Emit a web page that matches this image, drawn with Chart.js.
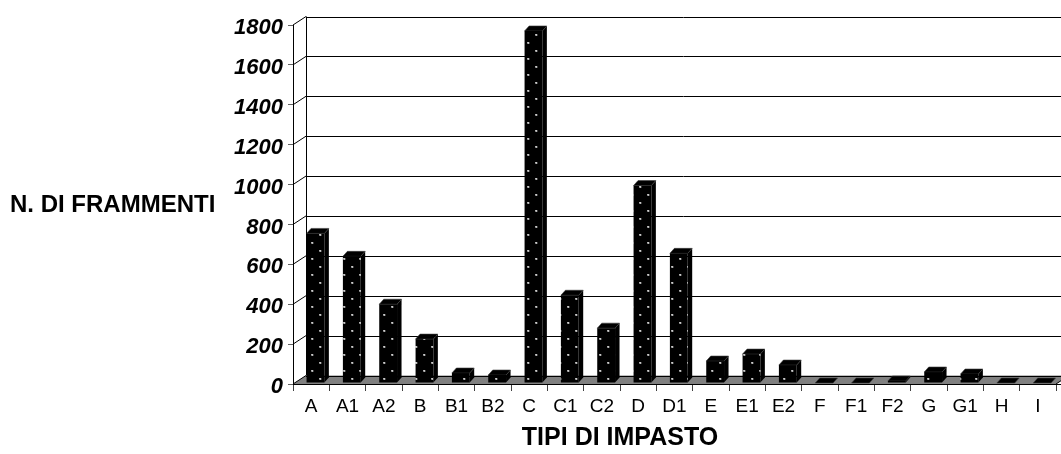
<!DOCTYPE html>
<html>
<head>
<meta charset="utf-8">
<script src="https://cdn.jsdelivr.net/npm/chart.js@4.4.1/dist/chart.umd.min.js"></script>
<style>
  html, body { margin: 0; padding: 0; background: #fff; overflow: hidden; }
  canvas { display: block; }
</style>
</head>
<body>
<canvas id="chart" width="1061" height="454"></canvas>
<script>
// Fragment counts per paste type
const categories = ['A','A1','A2','B','B1','B2','C','C1','C2','D','D1','E','E1','E2','F','F1','F2','G','G1','H','I'];
const fragments  = [750, 635, 395, 220, 50, 40, 1765, 440, 275, 990, 650, 110, 145, 90, 0, 0, 10, 55, 45, 0, 0];
const yTicks     = [0, 200, 400, 600, 800, 1000, 1200, 1400, 1600, 1800];
const yTitle = 'N. DI FRAMMENTI';
const xTitle = 'TIPI DI IMPASTO';

// Oblique projection used for the box walls and the columns
const WALL = { dx: 13, dy: -8.5 };
const BAR_SHIFT = { dx: 4.3, dy: -1 };
const BAR_DEPTH = { dx: 4.5, dy: -5 };
const FONT = "'Liberation Sans', Arial, sans-serif";

function dottedPattern(ctx) {
  const t = document.createElement('canvas');
  t.width = 16; t.height = 16;
  const g = t.getContext('2d');
  g.fillStyle = '#000'; g.fillRect(0, 0, 16, 16);
  g.fillStyle = '#b4b4b4';
  g.fillRect(3, 3, 2, 2); g.fillRect(11, 11, 2, 2);
  g.fillStyle = '#ffffff';
  g.fillRect(3, 3, 1, 1); g.fillRect(11, 11, 1, 1);
  return ctx.createPattern(t, 'repeat');
}

const boxPlugin = {
  id: 'box3d',
  beforeDatasetsDraw(chart) {
    const { ctx, chartArea: a, scales: { y } } = chart;
    const W = chart.width;
    ctx.save();
    // floor
    ctx.beginPath();
    ctx.moveTo(a.left, a.bottom);
    ctx.lineTo(a.right, a.bottom);
    ctx.lineTo(a.right + WALL.dx, a.bottom + WALL.dy);
    ctx.lineTo(a.left + WALL.dx, a.bottom + WALL.dy);
    ctx.closePath();
    ctx.fillStyle = '#808080';
    ctx.fill();

    ctx.strokeStyle = '#000';
    ctx.lineWidth = 1;
    // back wall grid + connectors to the front axis
    yTicks.forEach(v => {
      const fy = y.getPixelForValue(v);
      const by = Math.round(fy + WALL.dy) + 0.5;
      ctx.beginPath();
      ctx.moveTo(a.left, fy);
      ctx.lineTo(a.left + WALL.dx, fy + WALL.dy);
      ctx.stroke();
      ctx.beginPath();
      ctx.moveTo(a.left + WALL.dx, by);
      ctx.lineTo(W, by);
      ctx.stroke();
    });
    // left edge of back wall
    const bx = Math.round(a.left + WALL.dx) + 0.5;
    ctx.beginPath();
    ctx.moveTo(bx, y.getPixelForValue(yTicks[yTicks.length - 1]) + WALL.dy);
    ctx.lineTo(bx, y.getPixelForValue(0) + WALL.dy);
    ctx.stroke();
    // front edge of floor
    const fb = Math.round(a.bottom) + 0.5;
    ctx.beginPath();
    ctx.moveTo(a.left, fb);
    ctx.lineTo(W, fb);
    ctx.stroke();
    ctx.beginPath();
    ctx.moveTo(a.right, a.bottom);
    ctx.lineTo(a.right + WALL.dx, a.bottom + WALL.dy);
    ctx.stroke();

    // tops and sides of the columns
    const meta = chart.getDatasetMeta(0);
    meta.data.forEach(el => {
      const p = el.getProps(['x', 'y', 'base', 'width'], true);
      const l = p.x - p.width / 2 + BAR_SHIFT.dx;
      const r = p.x + p.width / 2 + BAR_SHIFT.dx;
      const t = Math.min(p.y, p.base) + BAR_SHIFT.dy;
      const b = Math.max(p.y, p.base) + BAR_SHIFT.dy;
      ctx.fillStyle = '#000';
      ctx.strokeStyle = '#3a3a3a';
      ctx.lineWidth = 0.6;
      // side
      ctx.beginPath();
      ctx.moveTo(r, t);
      ctx.lineTo(r + BAR_DEPTH.dx, t + BAR_DEPTH.dy);
      ctx.lineTo(r + BAR_DEPTH.dx, b + BAR_DEPTH.dy);
      ctx.lineTo(r, b);
      ctx.closePath();
      ctx.fill();
      // top
      ctx.beginPath();
      ctx.moveTo(l, t);
      ctx.lineTo(l + BAR_DEPTH.dx, t + BAR_DEPTH.dy);
      ctx.lineTo(r + BAR_DEPTH.dx, t + BAR_DEPTH.dy);
      ctx.lineTo(r, t);
      ctx.closePath();
      ctx.fill();
      ctx.stroke();
    });
    ctx.restore();
  },
  beforeDatasetDraw(chart) {
    chart.ctx.save();
    chart.ctx.translate(BAR_SHIFT.dx, BAR_SHIFT.dy);
  },
  afterDatasetDraw(chart) {
    chart.ctx.restore();
  },
  afterDraw(chart) {
    const ctx = chart.ctx;
    ctx.save();
    ctx.fillStyle = '#000';
    ctx.textBaseline = 'middle';
    ctx.font = `bold 24px ${FONT}`;
    ctx.textAlign = 'left';
    ctx.fillText(yTitle, 10, 205);
    ctx.font = `bold 25px ${FONT}`;
    ctx.textAlign = 'center';
    ctx.fillText(xTitle, 620, 438);
    ctx.restore();
  }
};

const ctx = document.getElementById('chart').getContext('2d');
new Chart(ctx, {
  type: 'bar',
  data: {
    labels: categories,
    datasets: [{
      data: fragments,
      backgroundColor: dottedPattern(ctx),
      borderWidth: 0,
      categoryPercentage: 1,
      barPercentage: 0.49,
      clip: false
    }]
  },
  options: {
    responsive: false,
    animation: false,
    devicePixelRatio: 1,
    layout: { padding: { top: 25, right: 5, left: 0, bottom: 0 } },
    plugins: { legend: { display: false }, tooltip: { enabled: false } },
    scales: {
      x: {
        grid: { display: true, drawOnChartArea: false, drawTicks: true, tickLength: 7, tickColor: '#404040', offset: true },
        border: { display: false },
        ticks: { font: { family: FONT, size: 19 }, color: '#000', padding: 4, maxRotation: 0, autoSkip: false },
        afterFit(s) { s.height = 70; }
      },
      y: {
        min: 0,
        max: 1800,
        afterBuildTicks(s) { s.ticks = yTicks.map(v => ({ value: v })); },
        grid: { drawOnChartArea: false, tickLength: 5, tickColor: '#606060' },
        border: { display: true, color: '#000', width: 1 },
        ticks: {
          font: { family: FONT, size: 22, weight: 'bold', style: 'italic' },
          color: '#000', padding: 5, labelOffset: 3,
          callback: v => String(v)
        },
        afterFit(s) { s.width = 293; }
      }
    }
  },
  plugins: [boxPlugin]
});
</script>
</body>
</html>
